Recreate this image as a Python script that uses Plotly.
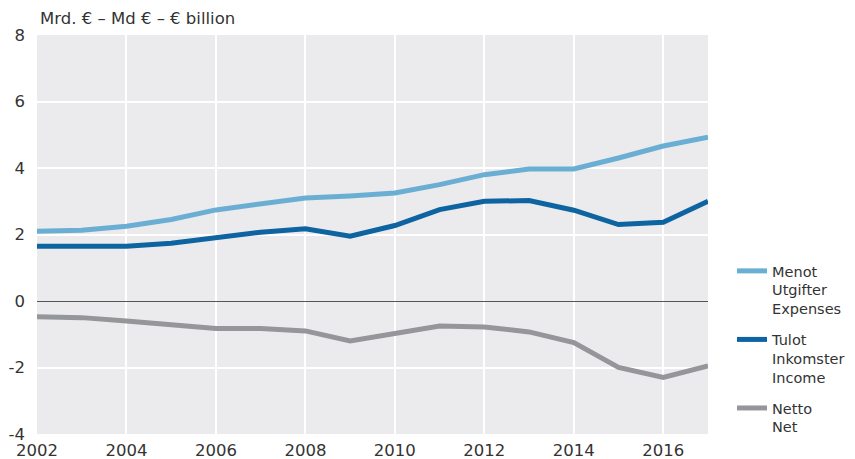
import plotly.graph_objects as go

years = list(range(2002, 2018))
menot = [2.10, 2.13, 2.25, 2.45, 2.74, 2.92, 3.10, 3.16, 3.25, 3.50, 3.80, 3.97, 3.97, 4.30, 4.66, 4.93]
tulot = [1.65, 1.64, 1.65, 1.74, 1.90, 2.07, 2.17, 1.95, 2.27, 2.75, 3.00, 3.02, 2.73, 2.30, 2.37, 3.00]
netto = [-0.47, -0.50, -0.60, -0.70, -0.83, -0.83, -0.90, -1.20, -0.97, -0.75, -0.78, -0.93, -1.25, -2.00, -2.30, -1.95]

names = ["Menot<br>Utgifter<br>Expenses", "Tulot<br>Inkomster<br>Income", "Netto<br>Net"]
colors = ["#6AAFD3", "#0E64A0", "#95969A"]
series = [menot, tulot, netto]

fig = go.Figure()
for i, (n, c, s) in enumerate(zip(names, colors, series)):
    fig.add_trace(go.Scatter(x=years, y=s, mode="lines", name=n, legendgroup=f"g{i}",
                             line=dict(color=c, width=5)))

FONT = "DejaVu Sans, Liberation Sans, Arial, sans-serif"
fig.update_layout(
    width=855, height=459,
    margin=dict(l=29, r=155, t=27, b=33),
    plot_bgcolor="#EBEBED", paper_bgcolor="white",
    font=dict(family=FONT, size=16, color="#333333"),
    xaxis=dict(range=[2002, 2017], tickmode="array", tickvals=list(range(2002, 2017, 2)),
               showgrid=True, gridcolor="white", gridwidth=2, zeroline=False,
               ticks="", showline=False, tickfont=dict(size=16.5), ticklabelstandoff=4,
               automargin=False),
    yaxis=dict(range=[-4, 8], tickmode="array", tickvals=[-4, -2, 0, 2, 4, 6, 8],
               ticktext=["-4", "-2", "0", "2", "4", "6", "8"],
               showgrid=True, gridcolor="white", gridwidth=2,
               zeroline=True, zerolinecolor="#555555", zerolinewidth=1,
               ticks="", showline=False, tickfont=dict(size=16.5), ticklabelstandoff=11,
               automargin=False),
    legend=dict(xref="container", yref="container", x=0.8468, xanchor="left",
                y=0.462, yanchor="top", valign="top",
                font=dict(size=14.5), tracegroupgap=9, bgcolor="rgba(0,0,0,0)",
                itemwidth=30),
    annotations=[dict(text="Mrd. € – Md € – € billion", xref="paper", yref="paper",
                      x=0, y=1, xanchor="left", yanchor="middle", yshift=17, xshift=1,
                      showarrow=False, font=dict(size=16.5, color="#333333"))],
)
fig.write_html("out.html")
